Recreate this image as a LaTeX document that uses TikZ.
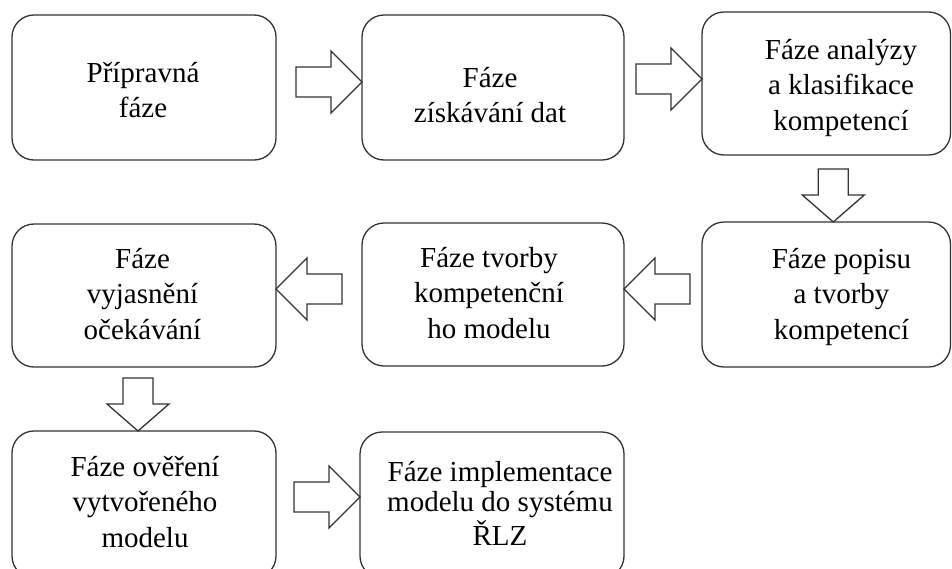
\documentclass[tikz,border=0pt]{standalone}
\usepackage{fontspec}
\setmainfont{Liberation Serif}
\tikzset{
  phasebox/.style={draw=black!80, line width=1.3pt, rounded corners=22pt,
    inner sep=0pt, outer sep=0pt, fill=white},
  phasetext/.style={anchor=base, inner sep=0pt, text=black},
  blockarrow/.style={draw=black!80, line width=1.3pt, fill=white, line join=miter}
}
% centred lines of a phase name, first baseline at the node's base
\newcommand\phaselines[2][35.5]{{\fontsize{29}{#1}\selectfont
  \begin{tabular}[t]{@{}c@{}}#2\end{tabular}}}
% block arrows, drawn from their tip
\newcommand\arrowright[1]{\draw[blockarrow] #1 -- ++(-31,31) -- ++(0,-16) -- ++(-35,0)
  -- ++(0,-30) -- ++(35,0) -- ++(0,-16) -- cycle;}
\newcommand\arrowleft[1]{\draw[blockarrow] #1 -- ++(31,31) -- ++(0,-16) -- ++(35,0)
  -- ++(0,-30) -- ++(-35,0) -- ++(0,-16) -- cycle;}
\newcommand\arrowdown[1]{\draw[blockarrow] #1 -- ++(-31,27) -- ++(16,0) -- ++(0,26)
  -- ++(30,0) -- ++(0,-26) -- ++(16,0) -- cycle;}
\begin{document}
\begin{tikzpicture}[x=1pt,y=1pt]
\useasboundingbox (0,0) rectangle (952,-568);
\clip (0,0) rectangle (952,-568);
\fill[white] (0,0) rectangle (952,-568);

% phase boxes
\node[phasebox, minimum width=264pt, minimum height=145pt] (b1) at (144,-87.5) {};
\node[phasebox, minimum width=262pt, minimum height=145pt] (b2) at (493,-87.5) {};
\node[phasebox, minimum width=248.5pt, minimum height=143pt] (b3) at (826.25,-83.5) {};
\node[phasebox, minimum width=264pt, minimum height=143pt] (b4) at (144,-295.5) {};
\node[phasebox, minimum width=262pt, minimum height=143pt] (b5) at (493,-294.5) {};
\node[phasebox, minimum width=248.5pt, minimum height=145pt] (b6) at (826.25,-294.5) {};
\node[phasebox, minimum width=264pt, minimum height=147pt] (b7) at (144,-504.5) {};
\node[phasebox, minimum width=264pt, minimum height=146pt] (b8) at (492,-505) {};

% phase names
\node[phasetext] (t1) at (143,-82) {\phaselines{Přípravná\\fáze}};
\node[phasetext] (t2) at (490,-87) {\phaselines{Fáze\\získávání dat}};
\node[phasetext] (t3) at (841,-59) {\phaselines{Fáze analýzy\\a klasifikace\\kompetencí}};
\node[phasetext] (t4) at (142.5,-268) {\phaselines{Fáze\\vyjasnění\\očekávání}};
\node[phasetext] (t5) at (489,-267) {\phaselines{Fáze tvorby\\kompetenční\\ho modelu}};
\node[phasetext] (t6) at (841.5,-268) {\phaselines{Fáze popisu\\a tvorby\\kompetencí}};
\node[phasetext] (t7) at (145,-476) {\phaselines{Fáze ověření\\vytvořeného\\modelu}};
\node[phasetext] (t8) at (500,-481) {\phaselines[30.5]{Fáze implementace\\modelu do systému\\ŘLZ}};

% flow between phases
\arrowright{([yshift=5.5pt]b2.west)}
\arrowright{([yshift=4.5pt]b3.west)}
\arrowdown{([xshift=7pt]b6.north)}
\arrowleft{([yshift=5.5pt]b5.east)}
\arrowleft{([yshift=6.5pt]b4.east)}
\arrowdown{([xshift=-6pt]b7.north)}
\arrowright{([yshift=-65pt]b8.north west)}
\end{tikzpicture}
\end{document}
